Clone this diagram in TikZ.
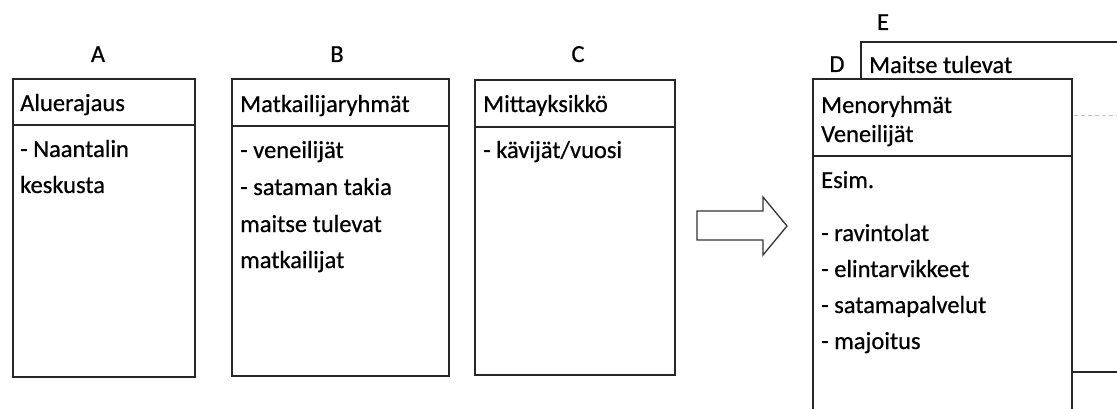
\documentclass[tikz,border=0pt]{standalone}
\usepackage{fontspec}
\setmainfont{Carlito}[FakeBold=0.6]
\begin{document}
\begin{tikzpicture}[x=1pt,y=-1pt,line join=miter,
  boxline/.style={draw=black!85, line width=1.7pt},
  box/.style={boxline, rectangle, anchor=north west, inner sep=0pt},
  txt/.style={anchor=base west, inner sep=0pt, font=\fontsize{24.5}{29}\selectfont},
  lbl/.style={anchor=base, inner sep=0pt, font=\fontsize{24.5}{29}\selectfont},
  arrowline/.style={draw=black!80, line width=1.3pt}]
\useasboundingbox (0,0) rectangle (1117,409);

% Box A
\node[box, minimum width=182pt, minimum height=298pt] (A) at (12,78) {};
\draw[boxline] (12,125) -- (194,125);
\node[lbl] (la) at (98,62) {A};
\node[txt] (a1) at (20,111) {Aluerajaus};
\node[txt] (a2) at (20,157) {- Naantalin};
\node[txt] (a3) at (20,193) {keskusta};

% Box B
\node[box, minimum width=217pt, minimum height=297pt] (B) at (231,78) {};
\draw[boxline] (231,126) -- (448,126);
\node[lbl] (lb) at (337,62) {B};
\node[txt] (b1) at (240,112) {Matkailijaryhmät};
\node[txt] (b2) at (240,158) {- veneilijät};
\node[txt] (b3) at (240,195) {- sataman takia};
\node[txt] (b4) at (240,232) {maitse tulevat};
\node[txt] (b5) at (240,268) {matkailijat};

% Box C
\node[box, minimum width=200pt, minimum height=295pt] (C) at (474,79) {};
\draw[boxline] (474,127) -- (674,127);
\node[lbl] (lc) at (578,62) {C};
\node[txt] (c1) at (483,112) {Mittayksikkö};
\node[txt] (c2) at (483,158) {- kävijät/vuosi};

% Block arrow
\draw[arrowline] (697,211) -- (763,211) -- (763,197) -- (787,226) -- (763,255) -- (763,240) -- (697,240) -- cycle;

% Box E (behind)
\draw[boxline] (861,79) -- (861,42) -- (1125,42);
\draw[boxline] (1072,372) -- (1125,372);
\draw[draw=black!25, line width=1pt, dash pattern=on 4pt off 3pt] (1074,116) -- (1125,116);
\node[lbl] (le) at (883,30) {E};
\node[txt] (e1) at (869,73) {Maitse tulevat};

% Box D
\draw[boxline] (813,420) -- (813,79) -- (1072,79) -- (1072,420);
\draw[boxline] (813,156) -- (1072,156);
\node[lbl] (ld) at (837,72) {D};
\node[txt] (d1) at (821,113) {Menoryhmät};
\node[txt] (d2) at (821,142) {Veneilijät};
\node[txt] (d3) at (821,188) {Esim.};
\node[txt] (d4) at (821,241) {- ravintolat};
\node[txt] (d5) at (821,277) {- elintarvikkeet};
\node[txt] (d6) at (821,313) {- satamapalvelut};
\node[txt] (d7) at (821,349) {- majoitus};
\end{tikzpicture}
\end{document}
